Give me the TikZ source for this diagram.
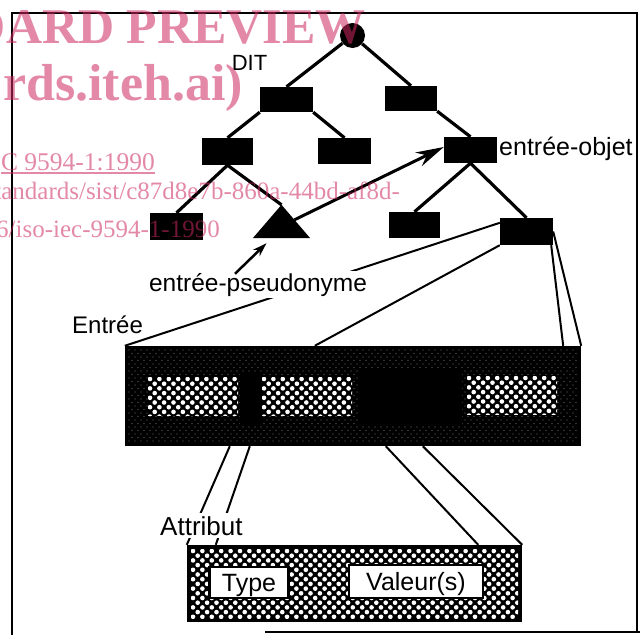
\documentclass[tikz,border=0pt]{standalone}
\usepackage{fontspec}
\setmainfont{Liberation Serif}
\newfontfamily\labfont{Liberation Sans}
\usetikzlibrary{arrows.meta,calc}
\definecolor{wmc}{RGB}{205,40,95}
% white dot lattice: x1,y1,x2,y2,cols,rows
\newcommand\wdots[6]{%
  \begin{scope}
  \clip (#1,#2) rectangle (#3,#4);
  \foreach \r in {0,...,#6}{%
    \foreach \c in {0,...,#5}{%
      \fill[white] ({#1+2+\c*9.4+mod(\r,2)*4.7},{#2+2+\r*4.7}) circle (2.3);
    }}
  \end{scope}}
% fine speckle: x1,y1,x2,y2,cols,rows
\newcommand\speckle[6]{%
  \begin{scope}
  \clip (#1,#2) rectangle (#3,#4);
  \foreach \r in {0,...,#6}{%
    \foreach \c in {0,...,#5}{%
      \fill[white!42!black] ({#1+1+\c*6+mod(\r,2)*3},{#2+1+\r*3.5}) circle (0.55);
    }}
  \end{scope}}
\begin{document}
\begin{tikzpicture}[x=1pt,y=-1pt,
  blackbox/.style={rectangle,fill=black,draw=none,inner sep=0pt},
  treeline/.style={line width=3.2pt},
  link/.style={line width=2pt},
  lab/.style={font=\labfont\fontsize{#1}{#1}\selectfont,inner sep=0pt},
  whitebox/.style={rectangle,fill=white,draw=black,line width=2.5pt,inner sep=0pt,text height=18pt,text depth=0pt,font=\labfont\fontsize{25}{25}\selectfont},
  wmb/.style={font=\bfseries\fontsize{#1}{#1}\selectfont,text=wmc,text opacity=0.55,inner sep=0pt,anchor=base east},
  wmr/.style={font=\fontsize{#1}{#1}\selectfont,text=wmc,text opacity=0.55,inner sep=0pt,anchor=base east}]
\useasboundingbox (0,0) rectangle (640,635);
\fill[white] (0,0) rectangle (640,635);
% frame
\draw[line width=2pt] (12,635) -- (12,13) -- (637,13) -- (637,632);
\draw[line width=2pt] (265,632) -- (640,632);
% tree nodes
\node[circle,fill=black,inner sep=0pt,minimum size=25pt] (root) at (352.5,35.5) {};
\node[blackbox,minimum width=53pt,minimum height=25pt] (n1) at (286.5,99.5) {};
\node[blackbox,minimum width=52pt,minimum height=25pt] (n2) at (411,98.5) {};
\node[blackbox,minimum width=51pt,minimum height=27pt] (n11) at (227.5,151.5) {};
\node[blackbox,minimum width=53pt,minimum height=26pt] (n12) at (344.5,151) {};
\node[blackbox,minimum width=53pt,minimum height=26pt] (n21) at (470.5,150) {};
\node[blackbox,minimum width=53pt,minimum height=27pt] (n111) at (176.5,226.5) {};
\node[inner sep=0pt,minimum width=57pt,minimum height=33pt] (tri) at (281.5,221.5) {};
\fill (tri.south west) -- (tri.south east) -- (tri.north) -- cycle;
\node[blackbox,minimum width=51pt,minimum height=26pt] (n211) at (414.5,225) {};
\node[blackbox,minimum width=53pt,minimum height=27pt] (n212) at (526.5,231.5) {};
% tree edges
\draw[treeline] (root) -- (n1.north);
\draw[treeline] (root) -- (n2.north);
\draw[treeline] (n1.south west) -- (n11.north);
\draw[treeline] (n1.south east) -- (n12.north);
\draw[treeline] (n2.south east) -- (n21.north);
\draw[treeline] (n11.south) -- (n111.north);
\draw[treeline] (n11.south) -- (tri.north);
\draw[treeline] (n21.south) -- (n211.north);
\draw[treeline] (n21.south) -- (n212.north);
\draw[line width=3pt,-{Stealth[length=28pt,width=15pt]}] ($(tri.north)!0.45!(tri.south east)$) -- ($(n21.west)+(0,-3)$);
% entry box
\node[blackbox,minimum width=456pt,minimum height=100pt] (ent) at (353,396) {};
\speckle{128}{349}{578}{443}{75}{27}
\fill[black] (240,374) rectangle (262,426);
\fill[black] (358,370) rectangle (462,424);
\node[blackbox,minimum width=90pt,minimum height=38pt] (s1) at (193,396) {};
\node[blackbox,minimum width=90pt,minimum height=38pt] (s2) at (307,396) {};
\node[blackbox,minimum width=90pt,minimum height=38pt] (s3) at (411,396) {};
\node[blackbox,minimum width=90pt,minimum height=38pt] (s4) at (512,395) {};
\wdots{148}{377}{238}{415}{10}{8}
\wdots{262}{377}{352}{415}{10}{8}
\wdots{467}{376}{557}{414}{10}{8}
% attribute box
\node[blackbox,minimum width=335pt,minimum height=77pt] (attr) at (354.5,583.5) {};
\wdots{191}{549}{518}{618}{35}{15}
\node[whitebox,minimum width=79pt,minimum height=31pt] (ty) at (249,582.5) {Type};
\node[whitebox,minimum width=134pt,minimum height=33pt] (va) at (416,581.5) {Valeur(s)};
% connectors
\draw[link] ($(n212.north west)+(0,5)$) -- (ent.north west);
\draw[link] (n212.south west) -- ($(ent.north west)+(190,0)$);
\draw[link] ($(n212.south east)+(-2,0)$) -- ($(ent.north east)+(-18,0)$);
\draw[link] (n212.east) -- (ent.north east);
\draw[link] ($(ent.south west)+(105,0)$) -- (attr.north west);
\draw[link] ($(ent.south west)+(125,0)$) -- ($(attr.north west)+(29,0)$);
\draw[link] ($(ent.south west)+(261,0)$) -- ($(attr.north east)+(-44,0)$);
\draw[link] ($(ent.south west)+(298,0)$) -- (attr.north east);
% labels
\node[lab=22,anchor=base] (dit) at (249.5,70) {DIT};
\node[lab=25,anchor=base west] (eo) at (499,155) {entrée-objet};
\node[lab=24.5,anchor=base,fill=white,inner sep=2pt] (pseudo) at (258,291) {entrée-pseudonyme};
\draw[line width=2.5pt,-{Stealth[length=14pt,width=9pt]}] ($(pseudo.north)+(-23,3)$) -- ($(tri.south)+(-15,5)$);
\node[lab=24,anchor=base west] (entl) at (72,333) {Entrée};
\node[lab=26,anchor=base west,fill=white,inner sep=3pt] (attl) at (157,535) {Attribut};
% watermark
\begin{scope}
\clip (0,0) rectangle (640,635);
\node[wmb=50] (w1) at (366,43) {DARD PREVIEW};
\node[wmb=52] (w2) at (243,100) {rds.iteh.ai)};
\node[wmr=25.5] (w3) at (155,170) {C 9594-1:1990};
\draw[wmc,draw opacity=0.55,line width=1.3pt] ($(w3.base west)+(0,3)$) -- ($(w3.base east)+(0,3)$);
\node[wmr=25] (w4) at (400,199) {standards/sist/c87d8e7b-860a-44bd-af8d-};
\node[wmr=25] (w5) at (220,237) {6/iso-iec-9594-1-1990};
\end{scope}
\end{tikzpicture}
\end{document}
